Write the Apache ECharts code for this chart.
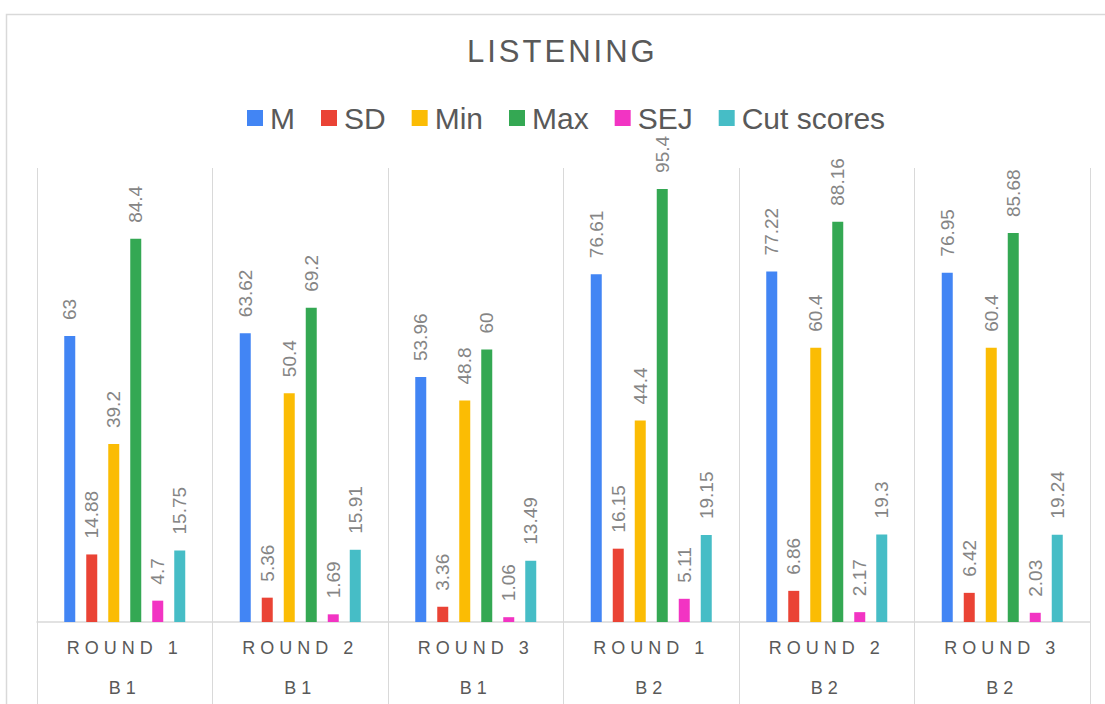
<!DOCTYPE html>
<html>
<head>
<meta charset="utf-8">
<title>LISTENING</title>
<script src="https://cdn.jsdelivr.net/npm/echarts@6/dist/echarts.min.js"></script>
<style>
    html, body { margin: 0; padding: 0; background: #fff; }
    #chart { width: 1105px; height: 704px; }
    /* 标题和横轴标签的字间距 */
    #chart text[style*="31px"] { letter-spacing: 3px; }
    #chart text[style*="18px"] { letter-spacing: 5px; }
</style>
</head>
<body>
<div id="chart"></div>
<script>
// 横轴两级标签
const rounds = ['ROUND 1', 'ROUND 2', 'ROUND 3', 'ROUND 1', 'ROUND 2', 'ROUND 3'];
const levels = ['B1', 'B1', 'B1', 'B2', 'B2', 'B2'];

// 各项统计值
const mValues = [63, 63.62, 53.96, 76.61, 77.22, 76.95];
const sdValues = [14.88, 5.36, 3.36, 16.15, 6.86, 6.42];
const minValues = [39.2, 50.4, 48.8, 44.4, 60.4, 60.4];
const maxValues = [84.4, 69.2, 60, 95.4, 88.16, 85.68];
const sejValues = [4.7, 1.69, 1.06, 5.11, 2.17, 2.03];
const cutValues = [15.75, 15.91, 13.49, 19.15, 19.3, 19.24];

const seriesNames = ['M', 'SD', 'Min', 'Max', 'SEJ', 'Cut scores'];
const seriesColors = ['#4285F4', '#EA4335', '#FBBC04', '#34A853', '#F234C3', '#46BDC6'];
const seriesData = [mValues, sdValues, minValues, maxValues, sejValues, cutValues];

const categories = rounds.map((r, i) => r + '|' + levels[i]);

const chart = echarts.init(document.getElementById('chart'), null, { renderer: 'svg' });

chart.setOption({
    backgroundColor: '#ffffff',
    animation: false,
    title: {
        text: 'LISTENING',
        left: 462,
        top: 31,
        textStyle: { fontFamily: 'Arial', fontSize: 31, fontWeight: 'normal', color: '#595959' }
    },
    legend: {
        top: 98,
        left: 242,
        icon: 'rect',
        itemWidth: 16,
        itemHeight: 16,
        itemGap: 26,
        textStyle: { fontFamily: 'Arial', fontSize: 30, color: '#595959', padding: [0, 0, 0, 2] },
        data: seriesNames
    },
    grid: { left: 37, right: 15, top: 168, bottom: 82 },
    xAxis: {
        type: 'category',
        data: categories,
        axisLine: { lineStyle: { color: '#d9d9d9', width: 1.5 } },
        axisTick: { show: true, interval: 0, length: 82, lineStyle: { color: '#d9d9d9' } },
        splitLine: { show: true, interval: 0, lineStyle: { color: '#d9d9d9' } },
        axisLabel: {
            interval: 0,
            margin: 6,
            formatter: v => {
                const parts = v.split('|');
                return '{a|' + parts[0] + '}\n{a|' + parts[1] + '}';
            },
            rich: {
                a: { fontFamily: 'Arial', fontSize: 18, color: '#595959', lineHeight: 40 }
            }
        }
    },
    yAxis: {
        type: 'value',
        min: 0,
        max: 100,
        show: false,
        splitLine: { show: false }
    },
    series: seriesNames.map((name, i) => ({
        name: name,
        type: 'bar',
        data: seriesData[i],
        barWidth: 11,
        barGap: '100%',
        itemStyle: { color: seriesColors[i] },
        label: {
            show: true,
            position: 'top',
            rotate: 90,
            align: 'left',
            verticalAlign: 'middle',
            distance: 16,
            fontFamily: 'Arial',
            fontSize: 19,
            color: '#858585'
        }
    })),
    graphic: [{
        type: 'rect',
        left: 4,
        top: 12,
        shape: { width: 1130, height: 720 },
        style: { fill: 'none', stroke: '#d9d9d9', lineWidth: 1.5 },
        silent: true
    }]
});
</script>
</body>
</html>
